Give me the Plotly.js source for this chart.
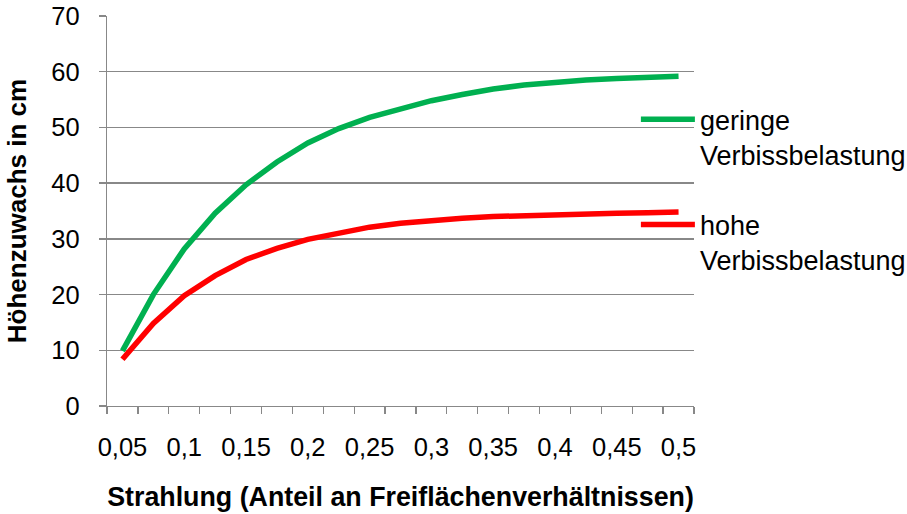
<!DOCTYPE html>
<html>
<head>
<meta charset="utf-8">
<script src="https://cdn.plot.ly/plotly-3.0.1.min.js"></script>
<style>html,body{margin:0;padding:0;background:#fff;}#chart{width:907px;height:514px;}</style>
</head>
<body>
<div id="chart"></div>
<script>
// Strahlung (Anteil an Freiflächenverhältnissen)
var strahlung = [0.05, 0.075, 0.1, 0.125, 0.15, 0.175, 0.2, 0.225, 0.25, 0.275,
                 0.3, 0.325, 0.35, 0.375, 0.4, 0.425, 0.45, 0.475, 0.5];
// Höhenzuwachs in cm
var geringeVerbiss = [9.9, 20.0, 28.2, 34.6, 39.7, 43.8, 47.2, 49.8, 51.8, 53.4,
                      54.8, 55.9, 56.9, 57.6, 58.1, 58.5, 58.8, 59.0, 59.2];
var hoheVerbiss = [8.4, 14.8, 19.8, 23.4, 26.3, 28.3, 29.9, 31.1, 32.1, 32.8,
                   33.3, 33.7, 34.0, 34.2, 34.4, 34.5, 34.6, 34.7, 34.8];
var seriesNames = ["geringe<br>Verbissbelastung", "hohe<br>Verbissbelastung"];
var xTickVals = [0.05, 0.1, 0.15, 0.2, 0.25, 0.3, 0.35, 0.4, 0.45, 0.5];
var xTickText = ["0,05", "0,1", "0,15", "0,2", "0,25", "0,3", "0,35", "0,4", "0,45", "0,5"];
var yTickVals = [0, 10, 20, 30, 40, 50, 60, 70];

var FONT = "'Liberation Sans', Arial, sans-serif";
var GRID = "#888888";
var step = strahlung[1] - strahlung[0];

var traces = [
  {x: strahlung, y: geringeVerbiss, name: seriesNames[0], legendgroup: "g1",
   type: "scatter", mode: "lines", line: {color: "#00B050", width: 5.5}},
  {x: strahlung, y: hoheVerbiss, name: seriesNames[1], legendgroup: "g2",
   type: "scatter", mode: "lines", line: {color: "#FF0000", width: 5.5}}
];

var layout = {
  width: 907, height: 514,
  margin: {l: 107, r: 213, t: 16, b: 108, pad: 0, autoexpand: false},
  paper_bgcolor: "#ffffff", plot_bgcolor: "#ffffff",
  font: {family: FONT, size: 25.5, color: "#000000"},
  showlegend: true,
  legend: {x: 0.901, y: 0.797, xanchor: "left", yanchor: "top",
           font: {family: FONT, size: 27, color: "#000000"},
           valign: "top", tracegroupgap: 32, traceorder: "grouped", itemwidth: 54,
           bgcolor: "rgba(0,0,0,0)", borderwidth: 0},
  xaxis: {
    type: "linear",
    range: [strahlung[0] - step / 2, strahlung[strahlung.length - 1] + step / 2],
    tickmode: "array", tickvals: xTickVals, ticktext: xTickText,
    ticks: "", showgrid: false, zeroline: false,
    showline: true, linecolor: GRID, linewidth: 1.3,
    ticklabelstandoff: 18,
    tickfont: {family: FONT, size: 25.5, color: "#000000"},
    minor: {tickmode: "linear", tick0: strahlung[0] - step / 2, dtick: step,
            ticks: "outside", ticklen: 7, tickwidth: 1.3, tickcolor: GRID, showgrid: false},
    title: {text: "<b>Strahlung (Anteil an Freiflächenverhältnissen)</b>",
            font: {family: FONT, size: 26.8, color: "#000000"}, standoff: 27},
    automargin: false, fixedrange: true
  },
  yaxis: {
    range: [0, 70], tickmode: "array", tickvals: yTickVals,
    ticks: "outside", ticklen: 7, tickwidth: 1.3, tickcolor: GRID,
    showgrid: true, gridcolor: GRID, gridwidth: 1.3, zeroline: false,
    showline: true, linecolor: GRID, linewidth: 1.3,
    ticklabelstandoff: 14,
    tickfont: {family: FONT, size: 25.5, color: "#000000"},
    title: {text: "<b>Höhenzuwachs in cm</b>",
            font: {family: FONT, size: 26, color: "#000000"}, standoff: 17},
    automargin: false, fixedrange: true
  }
};

Plotly.newPlot("chart", traces, layout, {displayModeBar: false, staticPlot: true});
</script>
</body>
</html>
